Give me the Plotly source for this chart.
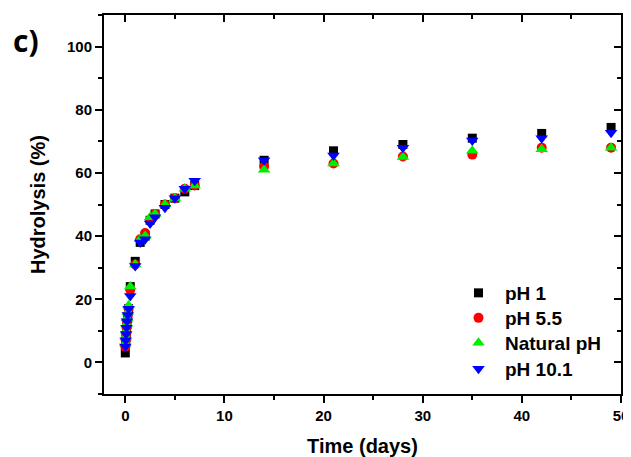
import plotly.graph_objects as go

time_days = [0, 0.042, 0.083, 0.125, 0.167, 0.25, 0.33, 0.5, 1, 1.5, 2, 2.5, 3, 4, 5, 6, 7, 14, 21, 28, 35, 42, 49]
ph1 = [3, 6, 8, 10, 12, 14, 17, 24, 32, 38, 40, 45, 47, 50, 52, 54, 56, 64, 67, 69, 71, 72.5, 74.4]
ph55 = [5, 7, 9, 11, 13, 15, 17, 23, 31, 39, 41, 45, 47, 50, 52, 55, 56, 62, 63, 65.2, 65.8, 68, 68]
natural = [6, 8, 10, 12, 14, 16, 18, 24, 31, 39, 40, 46, 47, 50, 52, 55, 56, 61, 63, 65, 67, 67.5, 68]
ph101 = [5, 7, 9, 11, 13, 15, 17, 21, 30.5, 38, 39, 44, 46, 49, 52, 55, 57.5, 64, 65.5, 68, 70.3, 71, 72.7]

series_names = ["pH 1", "pH 5.5", "Natural pH", "pH 10.1"]
series_values = [ph1, ph55, natural, ph101]
colors = ["#000000", "#ff0000", "#00ee00", "#0000ff"]
symbols = ["square", "circle", "triangle-up", "triangle-down"]
sizes = [9, 10, 11, 11]

x_ticks = [0, 10, 20, 30, 40, 50]
y_ticks = [0, 20, 40, 60, 80, 100]
x_range = [-2.15, 50]
y_range = [-10, 110]

# page body has an 8px margin, so the figure is sized/placed to compensate
OFF = 8
W, H = 631 - OFF, 457 - OFF
L, T, B = 104 - OFF, 15 - OFF, 63
PW = 621 - 104
R = W - L - PW
PH = H - T - B


def px_to_paper_x(xr):
    return (xr - OFF - L) / PW


def px_to_paper_y(yr):
    return (H - B - (yr - OFF)) / PH


FAM = "Liberation Sans, Arial"
tickf = dict(family=FAM, size=15, color="black", weight="bold")
titlef = dict(family=FAM, size=20, color="black", weight="bold")
legf = dict(family=FAM, size=19, color="black", weight="bold")

legend_item_y = [293, 318, 343, 369]
legend_names = ["legend", "legend2", "legend3", "legend4"]

fig = go.Figure()
for i, (name, vals) in enumerate(zip(series_names, series_values)):
    fig.add_trace(go.Scatter(
        x=time_days, y=vals, mode="markers", name=name,
        legend=legend_names[i],
        marker=dict(symbol=symbols[i], color=colors[i], size=sizes[i], line=dict(width=0)),
    ))
# empty trace to activate mirror axes (top/right inward ticks)
fig.add_trace(go.Scatter(x=[], y=[], xaxis="x2", yaxis="y2", showlegend=False, hoverinfo="skip"))

legend_layout = {}
for i, ln in enumerate(legend_names):
    legend_layout[ln] = dict(x=px_to_paper_x(452), y=px_to_paper_y(legend_item_y[i]),
                             xanchor="left", yanchor="middle", font=legf,
                             bgcolor="rgba(0,0,0,0)", itemwidth=43)

fig.update_layout(
    width=W, height=H,
    margin=dict(l=L, r=R, t=T, b=B, autoexpand=False),
    paper_bgcolor="white", plot_bgcolor="white",
    showlegend=True,
    **legend_layout,
    xaxis=dict(range=x_range, tickvals=x_ticks, ticks="outside", ticklen=7, tickwidth=2,
               tickcolor="black", showline=True, linecolor="black", linewidth=2,
               showgrid=False, zeroline=False, tickfont=tickf, automargin=False,
               ticklabeloverflow="allow",
               minor=dict(dtick=5, tick0=0, ticks="outside", ticklen=4, tickwidth=2, tickcolor="black"),
               title=dict(text="Time (days)", standoff=17, font=titlef)),
    yaxis=dict(range=y_range, tickvals=y_ticks, ticks="outside", ticklen=7, tickwidth=2,
               tickcolor="black", showline=True, linecolor="black", linewidth=2,
               showgrid=False, zeroline=False, tickfont=tickf, automargin=False,
               minor=dict(dtick=10, tick0=0, ticks="outside", ticklen=4, tickwidth=2, tickcolor="black"),
               title=dict(text="Hydrolysis (%)", standoff=16, font=titlef)),
    xaxis2=dict(range=x_range, overlaying="x", side="top", anchor="y2", tickvals=x_ticks,
                ticks="inside", ticklen=7, tickwidth=2, tickcolor="black", showticklabels=False,
                showline=True, linecolor="black", linewidth=2, showgrid=False, zeroline=False,
                automargin=False,
                minor=dict(dtick=5, tick0=0, ticks="inside", ticklen=4, tickwidth=2, tickcolor="black")),
    yaxis2=dict(range=y_range, overlaying="y", side="right", anchor="x2", tickvals=y_ticks,
                ticks="inside", ticklen=7, tickwidth=2, tickcolor="black", showticklabels=False,
                showline=True, linecolor="black", linewidth=2, showgrid=False, zeroline=False,
                automargin=False,
                minor=dict(dtick=10, tick0=0, ticks="inside", ticklen=4, tickwidth=2, tickcolor="black")),
    annotations=[dict(text="c)", x=px_to_paper_x(11), y=px_to_paper_y(18), xref="paper", yref="paper",
                      showarrow=False, xanchor="left", yanchor="top",
                      font=dict(family="Open Sans", size=30, color="black", weight="bold"))],
)

fig.write_html("out.html")
